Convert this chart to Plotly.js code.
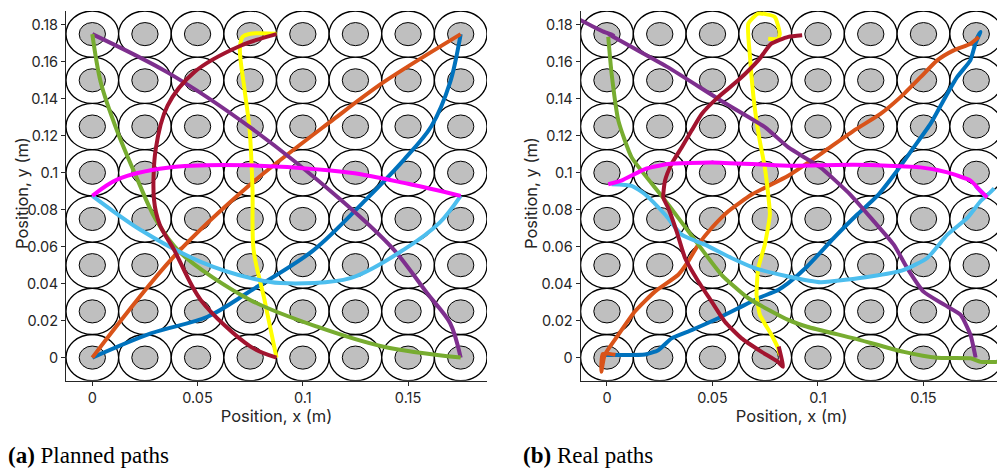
<!DOCTYPE html>
<html>
<head>
<meta charset="utf-8">
<script src="https://cdn.plot.ly/plotly-3.0.1.min.js"></script>
<style>
  html, body { margin: 0; padding: 0; overflow: hidden; background: #fff; }
  #chart { width: 1010px; height: 471px; }
</style>
</head>
<body>
<div id="chart"></div>
<script>
// Magnet grid: cell centres (m)
const gridCols = [0, 0.025, 0.05, 0.075, 0.1, 0.125, 0.15, 0.175];
const gridRows = [0, 0.025, 0.05, 0.075, 0.1, 0.125, 0.15, 0.175];
const outerRadius = 0.0125;
const innerRadius = 0.00625;

// Axis ticks
const xTickVals = [0, 0.05, 0.1, 0.15];
const xTickText = ['0', '0.05', '0.1', '0.15'];
const yTickVals = [0, 0.02, 0.04, 0.06, 0.08, 0.1, 0.12, 0.14, 0.16, 0.18];
const yTickText = ['0', '0.02', '0.04', '0.06', '0.08', '0.1', '0.12', '0.14', '0.16', '0.18'];

// Path colours
const pathColors = ['#0072BD', '#D95319', '#FFFF00', '#7E2F8E', '#77AC30', '#4DBEEE', '#A2142F', '#FF00FF'];

// ---- Planned paths ----
const planBlueX = [0, 0.0278, 0.0547, 0.075, 0.105, 0.130, 0.148, 0.161, 0.170, 0.175];
const planBlueY = [0, 0.0131, 0.0221, 0.036, 0.058, 0.0855, 0.107, 0.125, 0.149, 0.175];
const planOrangeX = [0, 0.0388, 0.076, 0.1147, 0.1384, 0.175];
const planOrangeY = [0, 0.0547, 0.0946, 0.129, 0.149, 0.175];
const planYellowX = [0.0875, 0.0818, 0.0766, 0.0761, 0.0747, 0.0723, 0.0701, 0.0714, 0.0752, 0.0875];
const planYellowY = [0, 0.0312, 0.0584, 0.091, 0.1235, 0.1452, 0.1669, 0.1735, 0.1752, 0.1752];
const planPurpleX = [0, 0.0357, 0.0752, 0.1179, 0.1432, 0.159, 0.170, 0.175];
const planPurpleY = [0.175, 0.1543, 0.1244, 0.0855, 0.0584, 0.0349, 0.0186, 0];
const planGreenX = [0, 0.004, 0.012, 0.0214, 0.030, 0.042, 0.075, 0.1068, 0.1384, 0.175];
const planGreenY = [0.175, 0.149, 0.122, 0.0964, 0.075, 0.0566, 0.0312, 0.0167, 0.0059, 0];
const planLightBlueX = [0, 0.023, 0.0515, 0.0752, 0.0894, 0.1226, 0.148, 0.165, 0.175];
const planLightBlueY = [0.0875, 0.069, 0.0518, 0.043, 0.0403, 0.043, 0.0584, 0.073, 0.0875];
const planDarkRedX = [0.0875, 0.0752, 0.0515, 0.0388, 0.032, 0.0293, 0.0301, 0.0357, 0.0483, 0.0704, 0.0875];
const planDarkRedY = [0, 0.0059, 0.0312, 0.0584, 0.072, 0.0855, 0.1126, 0.1362, 0.1543, 0.1687, 0.175];
const planMagentaX = [0, 0.012, 0.0357, 0.0736, 0.1226, 0.150, 0.175];
const planMagentaY = [0.0875, 0.0964, 0.1027, 0.104, 0.100, 0.094, 0.0875];

// ---- Measured paths ----
const realBlueX = [-0.0018, 0.0068, 0.018, 0.0243, 0.0306, 0.0401, 0.0527, 0.0622, 0.0717, 0.0811, 0.0859, 0.0949, 0.1075, 0.1186, 0.128, 0.1375, 0.1454, 0.1533, 0.1595, 0.1659, 0.1722, 0.1746, 0.177, 0.1752];
const realBlueY = [0.0014, 0.0014, 0.0017, 0.004, 0.0104, 0.0149, 0.0213, 0.0267, 0.0321, 0.0366, 0.0403, 0.0493, 0.0647, 0.0774, 0.0873, 0.1011, 0.1137, 0.1264, 0.1391, 0.1517, 0.1608, 0.1698, 0.1762, 0.1725];
const realOrangeX = [0.004, -0.002, -0.0027, -0.0011, 0.0053, 0.0132, 0.0227, 0.0338, 0.0385, 0.0433, 0.0496, 0.0575, 0.0686, 0.0859, 0.1012, 0.117, 0.1296, 0.1391, 0.1486, 0.1565, 0.1643, 0.1723, 0.1762];
const realOrangeY = [0.0015, 0.002, -0.0077, 0.0014, 0.0122, 0.0249, 0.0357, 0.0448, 0.052, 0.0611, 0.0701, 0.0792, 0.0882, 0.0984, 0.1101, 0.1228, 0.1318, 0.1409, 0.1517, 0.1608, 0.1662, 0.1698, 0.1735];
const realYellowX = [0.0819, 0.0811, 0.078, 0.0725, 0.0709, 0.0717, 0.0748, 0.0772, 0.0764, 0.0748, 0.0724, 0.070, 0.0678, 0.067, 0.0717, 0.0795, 0.0819, 0.0811, 0.0764];
const realYellowY = [0.0014, 0.005, 0.0122, 0.0231, 0.0339, 0.0484, 0.0611, 0.0774, 0.0882, 0.1029, 0.1174, 0.1354, 0.1626, 0.1807, 0.1861, 0.1843, 0.1752, 0.1725, 0.1725];
const realPurpleX = [-0.0129, -0.002, 0.003, 0.0006, 0.029, 0.054, 0.075, 0.086, 0.101, 0.1153, 0.1265, 0.136, 0.1423, 0.150, 0.160, 0.1676, 0.1723, 0.1747];
const realPurpleY = [0.1828, 0.1765, 0.1745, 0.1752, 0.157, 0.139, 0.1246, 0.1137, 0.103, 0.0882, 0.0737, 0.061, 0.0484, 0.0357, 0.0285, 0.0231, 0.0122, 0];
const realGreenX = [0.0006, 0.0022, 0.0054, 0.0117, 0.0259, 0.0338, 0.0433, 0.0543, 0.067, 0.0859, 0.0949, 0.117, 0.1407, 0.1565, 0.1723, 0.177, 0.1849, 0.192];
const realGreenY = [0.1735, 0.1535, 0.1282, 0.1083, 0.0875, 0.0756, 0.0611, 0.0448, 0.0321, 0.0204, 0.0167, 0.0104, 0.0031, -0.0001, -0.0004, -0.0023, -0.0023, -0.002];
const realLightBlueX = [0.0022, 0.0117, 0.018, 0.0275, 0.0354, 0.0464, 0.059, 0.0701, 0.0859, 0.1012, 0.1249, 0.1407, 0.1518, 0.1613, 0.1708, 0.177, 0.1794, 0.175, 0.1795, 0.1835];
const realLightBlueY = [0.0938, 0.0929, 0.0884, 0.0774, 0.0665, 0.0611, 0.0539, 0.0484, 0.0439, 0.0408, 0.0439, 0.0475, 0.0539, 0.0665, 0.0756, 0.0846, 0.0873, 0.0925, 0.0875, 0.0915];
const realDarkRedX = [0.0814, 0.0834, 0.0811, 0.0733, 0.0638, 0.0559, 0.0496, 0.0433, 0.037, 0.033, 0.029, 0.0267, 0.0275, 0.0306, 0.0354, 0.0401, 0.0449, 0.0527, 0.0622, 0.0717, 0.0779, 0.0859, 0.0925];
const realDarkRedY = [0.006, -0.005, -0.0023, 0.0031, 0.0104, 0.0194, 0.0303, 0.0412, 0.0539, 0.0683, 0.081, 0.0866, 0.0957, 0.1047, 0.1137, 0.1228, 0.1318, 0.1409, 0.15, 0.1608, 0.1698, 0.1735, 0.1744];
const realMagentaX = [0.0006, 0.0068, 0.018, 0.029, 0.0496, 0.0859, 0.117, 0.1486, 0.1613, 0.1723, 0.177, 0.1802];
const realMagentaY = [0.0938, 0.0957, 0.102, 0.1047, 0.1056, 0.1038, 0.1043, 0.1029, 0.1002, 0.0957, 0.0902, 0.0866];

const plannedSets = [
  [planBlueX, planBlueY], [planOrangeX, planOrangeY], [planYellowX, planYellowY],
  [planPurpleX, planPurpleY], [planGreenX, planGreenY], [planLightBlueX, planLightBlueY],
  [planDarkRedX, planDarkRedY], [planMagentaX, planMagentaY]
];
const realSets = [
  [realBlueX, realBlueY], [realOrangeX, realOrangeY], [realYellowX, realYellowY],
  [realPurpleX, realPurpleY], [realGreenX, realGreenY], [realLightBlueX, realLightBlueY],
  [realDarkRedX, realDarkRedY], [realMagentaX, realMagentaY]
];

const traces = [];
plannedSets.forEach(([xs, ys], i) => traces.push({
  type: 'scatter', mode: 'lines', x: xs, y: ys, xaxis: 'x', yaxis: 'y',
  line: { color: pathColors[i], width: 4, shape: 'spline', smoothing: 0.9 },
  hoverinfo: 'skip'
}));
realSets.forEach(([xs, ys], i) => traces.push({
  type: 'scatter', mode: 'lines', x: xs, y: ys, xaxis: 'x2', yaxis: 'y2',
  line: { color: pathColors[i], width: 4, shape: 'spline', smoothing: 0.5 },
  hoverinfo: 'skip'
}));

// Magnet cells: white outer ring with grey core, drawn in data units on both panels
function cellShapes(xr, yr) {
  const out = [];
  const ring = (r, fill, lw) => {
    gridCols.forEach(cx => gridRows.forEach(cy => out.push({
      type: 'circle', xref: xr, yref: yr, layer: 'below',
      x0: cx - r, x1: cx + r, y0: cy - r, y1: cy + r,
      fillcolor: fill, line: { color: '#000', width: lw }
    })));
  };
  ring(outerRadius, '#ffffff', 1.3);
  ring(innerRadius, '#bfbfbf', 1);
  return out;
}

const W = 1010, H = 471;
const sansFamily = 'Inter, Liberation Sans, Arial, sans-serif';
const tickFont = { family: sansFamily, size: 14.5, color: '#262626' };
const titleFont = { family: sansFamily, size: 16.5, color: '#262626' };
const yDomain = [(H - 380.7) / H, (H - 11) / H];

function xAxis(domain, anchor) {
  return {
    domain, anchor, range: [-0.0125, 0.1875], showgrid: false, zeroline: false,
    showline: true, linecolor: '#262626', linewidth: 1,
    ticks: 'outside', ticklen: 4, tickcolor: '#262626',
    tickvals: xTickVals, ticktext: xTickText, tickfont: tickFont,
    title: { text: 'Position, x (m)', font: titleFont, standoff: 4 }
  };
}
function yAxis(anchor) {
  return {
    domain: yDomain, anchor, range: [-0.0125, 0.1875], showgrid: false, zeroline: false,
    showline: true, linecolor: '#262626', linewidth: 1,
    ticks: 'outside', ticklen: 4, tickcolor: '#262626',
    tickvals: yTickVals, ticktext: yTickText, tickfont: tickFont
  };
}

const captionFont = { family: 'Liberation Serif, Times New Roman, serif', size: 23, color: '#000' };
const yTitleY = (H - 193) / H;

const layout = {
  width: W, height: H,
  margin: { l: 0, r: 0, t: 0, b: 0, pad: 0 },
  paper_bgcolor: '#fff', plot_bgcolor: 'rgba(0,0,0,0)',
  showlegend: false,
  xaxis: xAxis([66 / W, 487 / W], 'y'),
  yaxis: yAxis('x'),
  xaxis2: xAxis([580.6 / W, 1002.6 / W], 'y2'),
  yaxis2: yAxis('x2'),
  shapes: cellShapes('x', 'y').concat(cellShapes('x2', 'y2')),
  annotations: [
    { xref: 'paper', yref: 'paper', x: 22 / W, y: yTitleY, xanchor: 'center', yanchor: 'middle',
      textangle: -90, text: 'Position, y (m)', showarrow: false, font: titleFont },
    { xref: 'paper', yref: 'paper', x: 531 / W, y: yTitleY, xanchor: 'center', yanchor: 'middle',
      textangle: -90, text: 'Position, y (m)', showarrow: false, font: titleFont },
    { xref: 'paper', yref: 'paper', x: 6 / W, y: (H - 455) / H, xanchor: 'left', yanchor: 'middle',
      text: '<b>(a)</b> Planned paths', showarrow: false, font: captionFont },
    { xref: 'paper', yref: 'paper', x: 521 / W, y: (H - 455) / H, xanchor: 'left', yanchor: 'middle',
      text: '<b>(b)</b> Real paths', showarrow: false, font: captionFont }
  ]
};

Plotly.newPlot('chart', traces, layout, { displayModeBar: false, staticPlot: true });
</script>
</body>
</html>
